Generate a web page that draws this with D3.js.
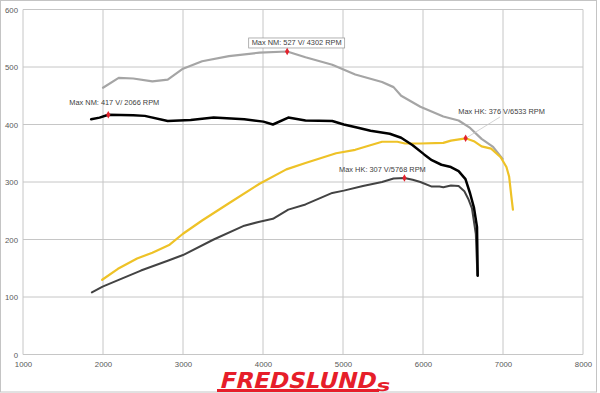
<!DOCTYPE html>
<html><head><meta charset="utf-8">
<script src="https://cdn.jsdelivr.net/npm/d3@7"></script>
<style>body{margin:0;background:#fff}svg{display:block}</style>
</head><body>
<svg id="c" width="600" height="393"></svg>
<script>
// ---- data ----
const xTicks = [1000,2000,3000,4000,5000,6000,7000,8000];
const yTicks = [0,100,200,300,400,500,600];

const torqueAfterRpm = [2000,2196,2378,2617,2809,3000,3239,3574,3957,4302,4531,4866,5153,5488,5632,5727,5967,6254,6445,6589,6732,6876,6995];
const torqueAfterVal = [464,481,480,475,478,497,510,519,525,527,517,504,487,474,465,450,431,414,407,394,375,361,340];

const torqueBeforeRpm = [1852,1957,2066,2378,2522,2809,3096,3383,3766,4005,4124,4316,4531,4866,5010,5201,5344,5584,5727,5871,6014,6110,6230,6349,6445,6531,6589,6636,6675,6684];
const torqueBeforeVal = [409,412,417,416,415,406,408,412,409,405,400,412,407,406,400,394,389,384,377,364,348,338,330,326,319,305,280,256,222,137];

const powerAfterRpm = [1990,2187,2426,2617,2833,3000,3239,3574,3957,4292,4531,4914,5153,5488,5679,5775,5967,6254,6349,6533,6636,6732,6852,6971,7043,7077,7105,7124];
const powerAfterVal = [130,149,167,177,191,210,233,263,297,322,333,350,356,370,370,367,367,368,372,376,371,362,358,343,326,309,274,252];

const powerBeforeRpm = [1861,1995,2234,2474,2809,3000,3383,3766,3957,4124,4316,4531,4866,5010,5249,5488,5632,5768,5871,5967,6110,6206,6254,6349,6445,6517,6565,6612,6660,6680];
const powerBeforeVal = [108,118,132,146,163,173,200,224,231,236,252,261,281,285,293,300,306,307,304,300,292,292,291,294,293,284,271,254,210,138];

const maxPoints = [
  {rpm:2066, val:417, label:"Max NM: 417 V/ 2066 RPM"},
  {rpm:4302, val:527, label:"Max NM: 527 V/ 4302 RPM"},
  {rpm:5768, val:307, label:"Max HK: 307 V/5768 RPM"},
  {rpm:6533, val:376, label:"Max HK: 376 V/6533 RPM"}
];

// ---- chart ----
const svg = d3.select("#c");
const x = d3.scaleLinear().domain([1000,8000]).range([23,583]);
const y = d3.scaleLinear().domain([0,600]).range([354.5,9.5]);

svg.append("rect").attr("x",0.5).attr("y",0.5).attr("width",596).attr("height",391.5)
  .attr("fill","#fff").attr("stroke","#c4c4c4");

const grid = svg.append("g");
grid.selectAll("line.v").data(xTicks).join("line")
  .attr("x1",d=>x(d)).attr("x2",d=>x(d)).attr("y1",y(600)).attr("y2",y(0))
  .attr("stroke","#c6c6c6").attr("stroke-width",1);
grid.selectAll("line.h").data(yTicks).join("line")
  .attr("y1",d=>y(d)).attr("y2",d=>y(d)).attr("x1",x(1000)).attr("x2",x(8000))
  .attr("stroke","#c6c6c6").attr("stroke-width",1);

const font = "'Liberation Sans', Arial, sans-serif";
const yAxis = d3.axisLeft(y).tickValues(yTicks).tickSize(0).tickPadding(5);
const ga = svg.append("g").attr("transform",`translate(${x(1000)},0)`).call(yAxis);
ga.select(".domain").remove();
ga.selectAll("text").attr("font-family",font).attr("font-size",7.8).attr("fill","#595959");

const xAxis = d3.axisBottom(x).tickValues(xTicks).tickSize(0).tickPadding(7).tickFormat(d3.format("d"));
const gx = svg.append("g").attr("transform",`translate(0,${y(0)})`).call(xAxis);
gx.select(".domain").remove();
gx.selectAll("text").attr("font-family",font).attr("font-size",7.8).attr("fill","#595959");

const line = d3.line().x(d=>x(d[0])).y(d=>y(d[1]));
const zip = (a,b)=>a.map((v,i)=>[v,b[i]]);
const series = [
  {rpm:torqueAfterRpm, val:torqueAfterVal, color:"#a5a5a5", w:2.2},
  {rpm:powerAfterRpm, val:powerAfterVal, color:"#eec227", w:2.2},
  {rpm:powerBeforeRpm, val:powerBeforeVal, color:"#434343", w:2},
  {rpm:torqueBeforeRpm, val:torqueBeforeVal, color:"#000000", w:2.5}
];
svg.append("g").selectAll("path").data(series).join("path")
  .attr("d",d=>line(zip(d.rpm,d.val)))
  .attr("fill","none").attr("stroke",d=>d.color).attr("stroke-width",d=>d.w)
  .attr("stroke-linejoin","round").attr("stroke-linecap","round");

// leader line for 6533 annotation
svg.append("line").attr("x1",x(6533)).attr("y1",y(376)).attr("x2",x(6962)).attr("y2",y(413))
  .attr("stroke","#c8c8c8").attr("stroke-width",0.8);

const lab = svg.append("g");
const pos = [
  {dx:6, dy:-12},
  {dx:9.5, dy:-8.5},
  {dx:-22, dy:-8},
  {dx:36, dy:-27}
];
maxPoints.forEach((p,i)=>{
  const t = lab.append("text").attr("x",x(p.rpm)+pos[i].dx).attr("y",y(p.val)+pos[i].dy)
    .attr("text-anchor","middle").attr("dominant-baseline","central")
    .attr("font-family",font).attr("font-size",7.4).attr("fill","#404040").text(p.label);
  if(i===1){
    const bb = t.node().getBBox();
    lab.insert("rect","text").attr("x",bb.x-3).attr("y",bb.y-0.5).attr("width",bb.width+6).attr("height",bb.height+1)
      .attr("fill","#fff").attr("stroke","#a0a0a0").attr("stroke-width",0.8);
  }
});

svg.append("g").selectAll("path").data(maxPoints).join("path")
  .attr("transform",d=>`translate(${x(d.rpm)},${y(d.val)})`)
  .attr("d",d3.symbol(d3.symbolDiamond,16)).attr("fill","#e3222c");

// logo
const logo = svg.append("g").attr("transform","translate(219,387.5) skewX(-14)");
logo.append("text").attr("x",0).attr("y",0).attr("font-family","'DejaVu Sans', sans-serif")
  .attr("font-weight","bold").attr("font-size",22).attr("fill","#e61e2a")
  .attr("textLength",156).attr("lengthAdjust","spacingAndGlyphs").text("FREDSLUND");
logo.append("text").attr("x",157).attr("y",3).attr("font-family","'DejaVu Sans', sans-serif")
  .attr("font-weight","bold").attr("font-size",16).attr("fill","#e61e2a")
  .attr("textLength",14).attr("lengthAdjust","spacingAndGlyphs").text("s");
svg.append("rect").attr("x",217).attr("y",389).attr("width",162).attr("height",3).attr("fill","#e61e2a");
</script>
</body></html>
